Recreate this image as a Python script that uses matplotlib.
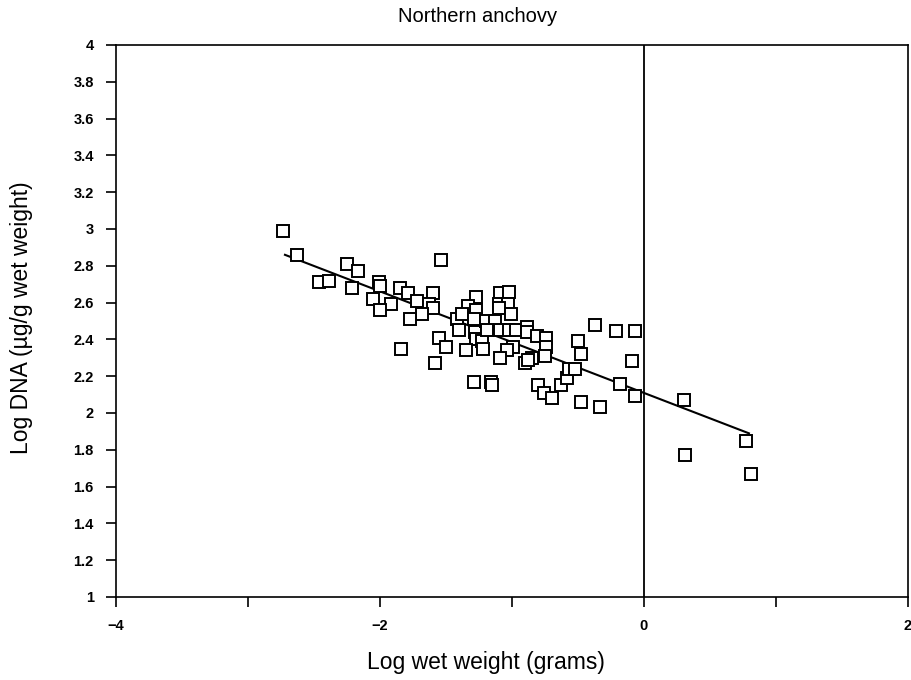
import matplotlib
matplotlib.use("Agg")
import matplotlib.pyplot as plt
import numpy as np

title = "Northern anchovy"
x_label = "Log wet weight (grams)"
y_label = "Log DNA (µg/g wet weight)"

log_weight = [
    -2.735, -2.63, -2.25, -2.17, -2.46, -2.39, -2.21, -2.01, -2.00, -2.05,
    -1.92, -2.00, -1.85, -1.79, -1.72, -1.60, -1.63, -1.60, -1.68, -1.77,
    -1.54, -1.42, -1.55, -1.50, -1.84, -1.58, -1.27, -1.33, -1.27, -1.38,
    -1.29, -1.40, -1.28, -1.27, -1.23, -1.22, -1.35, -1.20, -1.13, -1.19,
    -1.09, -1.02, -1.10, -1.03, -1.10, -1.01, -1.09, -1.02, -0.97, -0.89,
    -0.89, -0.81, -0.74, -0.99, -1.04, -1.09, -0.85, -0.90, -0.74, -0.75,
    -1.29, -1.16, -1.15, -0.80, -0.76, -0.70, -0.63, -0.58, -0.57, -0.52,
    -0.50, -0.48, -0.48, -0.33, -0.37, -0.21, -0.07, -0.09, -0.18, -0.07,
    0.30, 0.31, 0.77, 0.81, -0.88,
]
log_dna = [
    2.99, 2.86, 2.81, 2.77, 2.71, 2.72, 2.68, 2.71, 2.69, 2.62,
    2.59, 2.56, 2.68, 2.65, 2.61, 2.65, 2.59, 2.57, 2.54, 2.51,
    2.83, 2.51, 2.41, 2.36, 2.35, 2.27, 2.63, 2.58, 2.56, 2.54,
    2.51, 2.45, 2.44, 2.40, 2.39, 2.35, 2.34, 2.50, 2.50, 2.45,
    2.65, 2.66, 2.59, 2.59, 2.57, 2.54, 2.45, 2.45, 2.45, 2.47,
    2.44, 2.42, 2.41, 2.36, 2.34, 2.30, 2.30, 2.27, 2.36, 2.31,
    2.17, 2.17, 2.15, 2.15, 2.11, 2.08, 2.15, 2.19, 2.24, 2.24,
    2.39, 2.32, 2.06, 2.03, 2.48, 2.445, 2.445, 2.28, 2.16, 2.09,
    2.07, 1.77, 1.85, 1.67, 2.29,
]

# regression line
fit_x = [-2.72, 0.795]
fit_slope = -0.276
fit_intercept = 2.109

x_ticks = [-4, -3, -2, -1, 0, 1, 2]
x_tick_labels = ["\u22124", "", "\u22122", "", "0", "", "2"]
y_ticks = [1, 1.2, 1.4, 1.6, 1.8, 2, 2.2, 2.4, 2.6, 2.8, 3, 3.2, 3.4, 3.6, 3.8, 4]
y_tick_labels = ["1", "1.2", "1.4", "1.6", "1.8", "2", "2.2", "2.4", "2.6",
                 "2.8", "3", "3.2", "3.4", "3.6", "3.8", "4"]

plt.rcParams['font.family'] = ['Liberation Sans', 'DejaVu Sans']

W, H = 912, 680
fig = plt.figure(figsize=(W / 100, H / 100), dpi=100)
ax = fig.add_axes([116 / W, 1 - 597 / H, (908 - 116) / W, (597 - 45) / H])

ax.plot(log_weight, log_dna, linestyle='none', marker='s', markersize=8.3,
        markerfacecolor='white', markeredgecolor='black', markeredgewidth=1.4,
        zorder=3)
fx = np.array(fit_x)
ax.plot(fx, fit_intercept + fit_slope * fx, color='black', linewidth=1.5, zorder=2)
ax.axvline(0, color='black', linewidth=1.3, zorder=1)

ax.set_xlim(-4, 2)
ax.set_ylim(1, 4)
ax.set_xticks(x_ticks)
ax.set_xticklabels(x_tick_labels, fontsize=10.5, fontweight='bold')
ax.set_yticks(y_ticks)
ax.set_yticklabels(y_tick_labels, fontsize=10.5, fontweight='bold')
ax.tick_params(axis='both', direction='out', length=7, width=1.2, color='black')
ax.tick_params(axis='x', pad=9)
ax.tick_params(axis='y', pad=9)
for s in ax.spines.values():
    s.set_linewidth(1.2)

fig.text(478 / W, 1 - 16 / H, title, fontsize=14.5, ha='center', va='center')
fig.text(486 / W, 1 - 662 / H, x_label, fontsize=16.5, ha='center', va='center')
fig.text(22 / W, 1 - 318 / H, y_label, fontsize=16.5, ha='center', va='center',
         rotation=90)

fig.savefig("out.png", dpi=100)
